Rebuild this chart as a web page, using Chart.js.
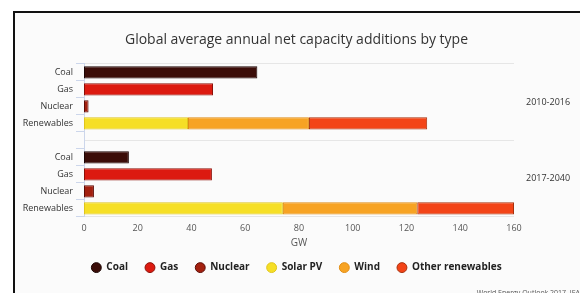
<!DOCTYPE html>
<html>
<head>
<meta charset="utf-8">
<script src="https://cdn.jsdelivr.net/npm/chart.js@4"></script>
<style>
  html, body { margin: 0; padding: 0; background: #fff; }
  #wrap { position: relative; width: 580px; height: 293px; overflow: hidden; }
  #frame { position: absolute; left: 13px; top: 11px; right: 0; bottom: 0;
           border-top: 2px solid #111; border-left: 2px solid #111; background: #fbfbfb; }
  #chart { position: absolute; left: 0; top: 0; }
</style>
</head>
<body>
<div id="wrap">
  <div id="frame"></div>
  <canvas id="chart" width="580" height="293"></canvas>
</div>
<script>
// rows on the left axis, one empty row between the two periods
const categories = ['Coal', 'Gas', 'Nuclear', 'Renewables', '', 'Coal', 'Gas', 'Nuclear', 'Renewables'];
const periods = ['2010-2016', '2017-2040'];
const xTicks = [0, 20, 40, 60, 80, 100, 120, 140, 160];

// GW per year
const coal     = [64.5, null, null, null, null, 16.7, null, null, null];
const gas      = [null, 48, null, null, null, null, 47.6, null, null];
const nuclear  = [null, null, 1.7, null, null, null, null, 3.7, null];
const solarPV  = [null, null, null, 38.7, null, null, null, null, 74];
const wind     = [null, null, null, 45, null, null, null, null, 50];
const otherRen = [null, null, null, 44, null, null, null, null, 36];

const font = 'Open Sans';

const ctx = document.getElementById('chart');

function ds(label, data, bg, border) {
  return { label, data, backgroundColor: bg, borderColor: border, borderWidth: 1,
           borderSkipped: false, barPercentage: 0.72, categoryPercentage: 1 };
}

new Chart(ctx, {
  type: 'bar',
  data: {
    labels: categories,
    datasets: [
      ds('Coal', coal, '#3b0d08', '#1c0503'),
      ds('Gas', gas, '#dc1a10', '#8c1008'),
      ds('Nuclear', nuclear, '#a3200f', '#5c0b05'),
      ds('Solar PV', solarPV, '#f6df26', '#e0c51c'),
      ds('Wind', wind, '#f7a323', '#e08d14'),
      ds('Other renewables', otherRen, '#f34417', '#a8300c')
    ]
  },
  options: {
    indexAxis: 'y',
    responsive: false,
    animation: false,
    layout: { padding: { left: 13, right: 0, top: 0, bottom: -4 } },
    scales: {
      x: {
        stacked: true,
        min: 0, max: 160,
        afterBuildTicks: s => { s.ticks = xTicks.map(v => ({ value: v })); },
        grid: { display: false, drawTicks: false },
        border: { display: false },
        ticks: { padding: 6, color: '#555', font: { family: font, size: 9 } },
        title: { display: true, text: 'GW', color: '#555', padding: { top: -2, bottom: -4 },
                 font: { family: font, size: 10 } }
      },
      y: {
        stacked: true,
        offset: true,
        grid: { offset: true, drawOnChartArea: false, tickLength: 8, color: '#ccd6eb' },
        border: { color: '#ccd6eb' },
        ticks: { padding: 3, color: '#333', font: { family: font, size: 9 } },
        afterFit: s => { s.width = 71; }
      },
      y2: {
        type: 'category',
        labels: periods,
        position: 'right',
        offset: true,
        grid: { offset: true, drawTicks: false, color: '#e6e6e6' },
        border: { display: false },
        ticks: { padding: 12, color: '#333', font: { family: font, size: 9 } },
        afterFit: s => { s.width = 66; }
      }
    },
    plugins: {
      title: {
        display: true,
        text: 'Global average annual net capacity additions by type',
        color: '#333',
        font: { family: font, size: 14, weight: 'normal' },
        padding: { top: 32, bottom: 15 }
      },
      subtitle: {
        display: true,
        position: 'bottom',
        align: 'end',
        text: 'World Energy Outlook 2017, IEA',
        color: '#555',
        font: { family: font, size: 7 },
        padding: { top: 6, bottom: 0 }
      },
      legend: {
        position: 'bottom',
        labels: {
          usePointStyle: true,
          pointStyle: 'circle',
          boxWidth: 10, boxHeight: 7,
          padding: 17,
          color: '#222',
          font: { family: font, size: 10, weight: 'bold' }
        }
      },
      tooltip: { enabled: false }
    }
  }
});
</script>
</body>
</html>
